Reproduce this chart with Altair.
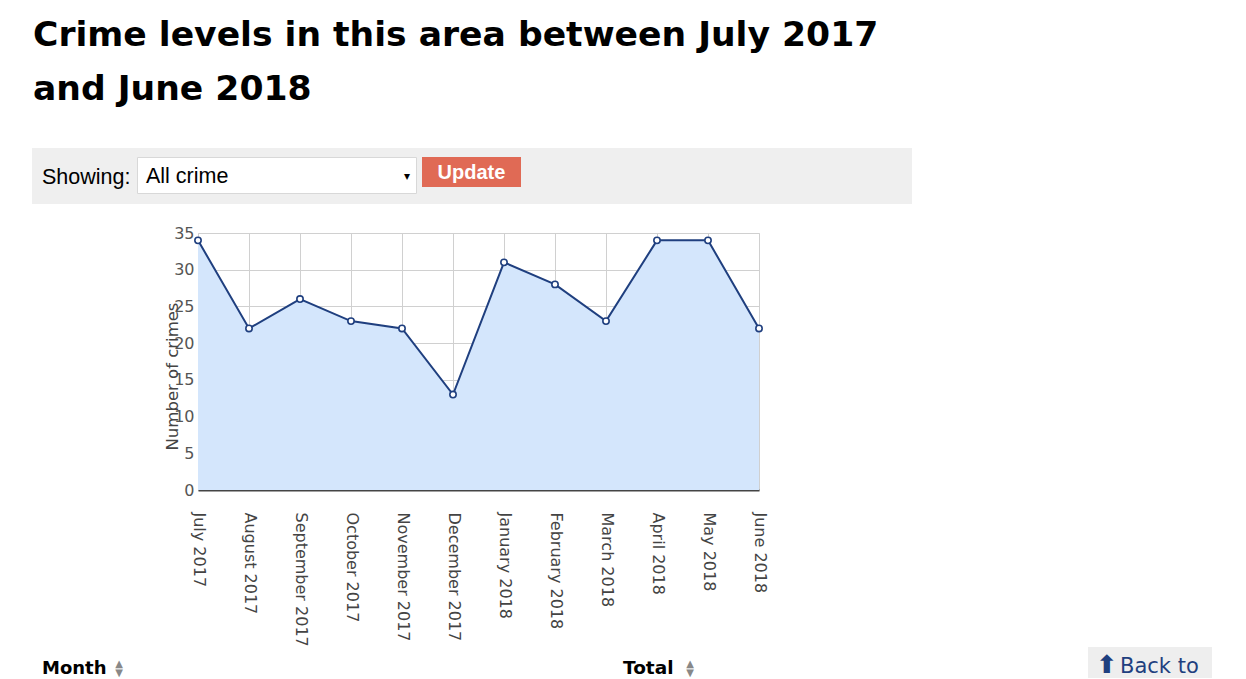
import altair as alt
import pandas as pd

months = ["July 2017", "August 2017", "September 2017", "October 2017", "November 2017",
          "December 2017", "January 2018", "February 2018", "March 2018", "April 2018",
          "May 2018", "June 2018"]
crimes = [34, 22, 26, 23, 22, 13, 31, 28, 23, 34, 34, 22]

df = pd.DataFrame({"month": months, "crimes": crimes})

W, H = 561, 257
NAVY = "#1f3f7f"

x = alt.X("month:N", sort=months,
          scale=alt.Scale(type="point", padding=0),
          axis=alt.Axis(title=None, labelAngle=90, labelAlign="left", labelBaseline="middle",
                        labelPadding=22, labelFont="DejaVu Sans", labelFontSize=16,
                        labelColor="#444", ticks=False, domainColor="#444", domainWidth=2,
                        grid=True, gridColor="#d0d0d0", labelOverlap=False))
y = alt.Y("crimes:Q", scale=alt.Scale(domain=[0, 35], nice=False),
          axis=alt.Axis(title="Number of crimes", values=[0, 5, 10, 15, 20, 25, 30, 35],
                        labelFont="DejaVu Sans", labelFontSize=16, labelColor="#555",
                        labelPadding=4, ticks=False, domain=False,
                        grid=True, gridColor="#d0d0d0",
                        titleFont="DejaVu Sans", titleFontSize=16.5, titleColor="#444",
                        titleFontWeight="normal", titleAngle=-90, titleX=-26, titleY=143,
                        titleAlign="center", titleBaseline="middle"))

base = alt.Chart(df)
area = base.mark_area(color="#d4e6fc", opacity=1).encode(x=x, y=y)
line = base.mark_line(color=NAVY, strokeWidth=2).encode(x=x, y=y)
pts = base.mark_point(filled=True, fill="white", stroke=NAVY, strokeWidth=1.6, size=40,
                      opacity=1).encode(x=x, y=y)

OX, OY = 198, 233  # plot origin on page


def rect(x1, y1, x2, y2, fill, stroke=None):
    kw = {"fill": fill}
    if stroke:
        kw["stroke"] = stroke
        kw["strokeWidth"] = 1
    return alt.Chart(alt.Data(values=[{}])).mark_rect(**kw).encode(
        x=alt.value(x1 - OX), x2=alt.value(x2 - OX),
        y=alt.value(y1 - OY), y2=alt.value(y2 - OY))


def text(t, px, py, size, color="#000", weight="normal", font="Liberation Sans", align="left"):
    return alt.Chart(alt.Data(values=[{}])).mark_text(
        text=t, fontSize=size, color=color, fontWeight=weight, font=font,
        align=align, baseline="alphabetic").encode(
        x=alt.value(px - OX), y=alt.value(py - OY))


TFONT = "DejaVu Sans"
decor = [
    text("Crime levels in this area between July 2017", 33, 46, 34.6, "#000", "bold", TFONT),
    text("and June 2018", 33, 100, 34.6, "#000", "bold", TFONT),
    rect(32, 148, 912, 204, "#efefef"),
    text("Showing:", 42, 184, 21.5),
    rect(137.5, 157.5, 416.5, 193.5, "white", "#d8d8d8"),
    text("All crime", 146, 183, 21.5),
    text("▾", 407, 180, 12, font="DejaVu Sans", align="center"),
    rect(422, 157, 521, 187, "#e06a55"),
    text("Update", 471.5, 179, 20, "white", "bold", align="center"),
    text("Month", 42, 674, 18, "#000", "bold", TFONT),
    text("▲", 119, 667, 10, "#888", "normal", "DejaVu Sans", "center"),
    text("▼", 119, 676, 10, "#888", "normal", "DejaVu Sans", "center"),
    text("Total", 623, 674, 18.5, "#000", "bold", TFONT),
    text("▲", 690, 667, 10, "#888", "normal", "DejaVu Sans", "center"),
    text("▼", 690, 676, 10, "#888", "normal", "DejaVu Sans", "center"),
    rect(1088, 647, 1212, 690, "#eeeeee"),
    text("⬆", 1107, 673, 25, NAVY, "bold", "DejaVu Sans", "center"),
    text("Back to", 1120, 673, 21, NAVY, "normal", TFONT),
]

chart = alt.layer(area, line, pts, *decor).properties(
    width=W, height=H,
    autosize=alt.AutoSizeParams(type="none"),
    padding={"left": OX - 8, "top": OY - 8, "right": 1230 - (OX - 8) - W,
             "bottom": 670 - (OY - 8) - H},
).configure_view(stroke=None).configure(background="white")

chart.save("out.html", embed_options={"renderer": "svg", "actions": False})
